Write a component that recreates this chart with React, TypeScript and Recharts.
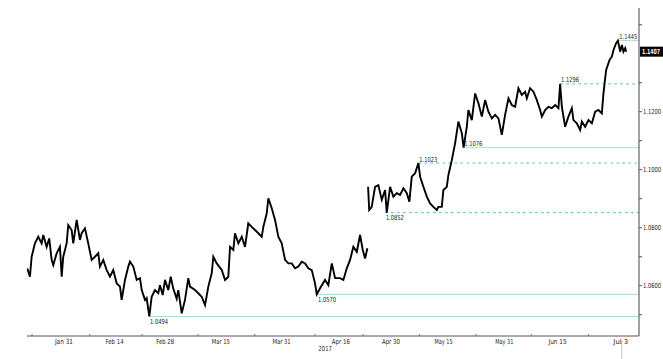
import React from 'react';
import { LineChart, Line, XAxis, YAxis, ReferenceLine } from 'recharts';

// x = trading days since Jan 31 2017 (weekends removed), y = EUR/USD
const tradingDays: number[] = [
  -7.25, -6.72, -6.38, -5.73, -5.08, -4.41, -4.09, -3.42, -2.91, -2.43, -2.11, -1.44, -0.79, -0.45, -0.14,
  0.53, 0.85, 1.52, 1.84, 2.51, 3.16, 3.5, 4.15, 4.8, 5.47, 6.13, 6.78, 7.11, 7.77, 8.44, 9.09, 9.74,
  10.42, 11.07, 11.4, 12.06, 12.71, 13.04, 13.7, 14.37, 15.02, 15.36, 16.01, 16.34, 16.86, 17.33, 17.98,
  18.64, 18.97, 19.51, 19.96, 20.61, 21.09, 21.6, 22.27, 22.59, 23.26, 23.91, 24.57, 24.9, 25.89, 26.54,
  27.21, 27.87, 28.52, 29.19, 29.51, 30.18, 31.17, 31.82, 32.47, 32.81, 33.46, 33.79, 34.45, 35.12, 35.77,
  36.42, 37.09, 37.75, 38.4, 39.07, 39.39, 40.06, 40.38, 41.05, 41.7, 42.35, 43.02, 43.68, 44.33, 45.0,
  45.65, 46.3, 46.98, 47.63, 48.28, 48.95, 49.6, 49.94, 50.59, 51.58, 52.23, 52.91, 53.56, 54.55, 55.2,
  55.87, 56.52, 57.17, 57.85, 58.5, 59.03, 59.49, 59.94,
  60.0,
  60.08, 60.3, 60.8, 61.46, 62.11, 62.79, 63.44, 63.77, 64.43, 65.08, 65.75, 66.4, 67.06, 67.73, 68.24,
  68.71, 69.37, 70.02, 70.36, 71.01, 71.68, 72.33, 72.98, 73.66, 73.97, 74.64, 74.96, 75.63, 75.95, 76.62,
  77.27, 77.92, 78.6, 78.95, 79.58, 79.9, 80.57, 81.23, 81.88, 82.55, 83.2, 83.85, 84.53, 85.18, 85.83,
  86.5, 87.15, 87.81, 88.48, 89.13, 89.78, 90.45, 91.11, 91.44, 92.09, 92.75, 93.42, 94.07, 94.41, 95.06,
  95.71, 96.38, 97.04, 97.69, 98.02, 98.36, 99.01, 99.66, 100.34, 100.65, 101.32, 101.98, 102.31, 102.96,
  103.62, 104.29, 104.94, 105.59, 106.26, 106.58, 107.11, 107.77, 108.24, 108.56, 109.09, 109.43, 109.88,
  110.22, 110.53, 110.87, 111.07,
];

const eurusd: (number | null)[] = [
  1.066, 1.0631, 1.07, 1.0746, 1.0769, 1.0746, 1.0775, 1.0734, 1.0763, 1.0689, 1.0671, 1.0712, 1.0734, 1.0631, 1.07,
  1.0746, 1.0809, 1.0792, 1.0746, 1.0827, 1.0758, 1.0781, 1.0798, 1.0746, 1.0689, 1.07, 1.0712, 1.0666, 1.0689, 1.0654, 1.0631, 1.0654,
  1.0608, 1.0597, 1.0551, 1.062, 1.0666, 1.0683, 1.0666, 1.062, 1.0626, 1.0585, 1.0551, 1.0557, 1.0494, 1.0562, 1.0585,
  1.0574, 1.0602, 1.0568, 1.062, 1.0585, 1.0631, 1.059, 1.0555, 1.0585, 1.0505, 1.0551, 1.0626, 1.0597, 1.0585, 1.0574,
  1.0562, 1.0533, 1.0597, 1.0643, 1.07, 1.0677, 1.0654, 1.062, 1.0631, 1.0734, 1.0723, 1.0781, 1.0746, 1.0769, 1.0734,
  1.0815, 1.0803, 1.0792, 1.0781, 1.0769, 1.0803, 1.085, 1.0901, 1.0867, 1.0827, 1.0769, 1.0746, 1.0689, 1.0677, 1.0677,
  1.066, 1.0666, 1.0683, 1.0677, 1.066, 1.0654, 1.0608, 1.057, 1.0591, 1.062, 1.0602, 1.0677, 1.0626, 1.0626, 1.062,
  1.066, 1.0689, 1.0734, 1.0717, 1.0775, 1.0723, 1.0694, 1.0729,
  null,
  1.0941, 1.0861, 1.0872, 1.0941, 1.0947, 1.0896, 1.093, 1.0852, 1.0941, 1.0907, 1.0919, 1.0913, 1.0936, 1.0919, 1.089,
  1.0976, 1.0988, 1.1023, 1.0976, 1.0941, 1.0907, 1.0884, 1.0872, 1.0861, 1.0872, 1.0872, 1.093, 1.0941, 1.0982, 1.1033,
  1.1091, 1.1166, 1.1126, 1.1076, 1.1148, 1.1206, 1.1171, 1.1263, 1.1229, 1.1183, 1.124, 1.12, 1.1177, 1.1189, 1.1177,
  1.112, 1.1189, 1.1246, 1.1223, 1.1217, 1.1281, 1.1258, 1.1269, 1.1246, 1.1281, 1.1269, 1.124, 1.1206, 1.1183, 1.1206,
  1.1217, 1.1212, 1.1223, 1.1212, 1.1296, 1.1217, 1.1148, 1.1183, 1.1212, 1.1171, 1.116, 1.1137, 1.1166, 1.1148,
  1.1171, 1.116, 1.12, 1.1206, 1.1194, 1.1263, 1.1344, 1.1378, 1.139, 1.1413, 1.1436, 1.1445, 1.1407,
  1.143, 1.1407, 1.1419, 1.1407,
];

const lastPrice = 1.1407;

// x-axis labels
const xLabelDays = [0, 10, 20, 31, 43, 54.7, 64.6, 75, 87, 97.5, 110];
const xLabels = ['Jan 31', 'Feb 14', 'Feb 28', 'Mar 15', 'Mar 31', 'Apr 16', 'Apr 30', 'May 15', 'May 31', 'Jun 15', 'Jul 3'];
const xMinorDays = [-6.3, 5.1, 15.4, 26.5, 37.7, 49.6, 59.1, 70.2, 81.4, 92.3, 103.6];
const yearDay = 51.6;
const yearLabel = '2017';

// y-axis
const yMinorTicks = [1.05, 1.07, 1.09, 1.11, 1.13, 1.15];
const yLabelTicks = [1.06, 1.08, 1.1, 1.12];

// annotated levels
const levelValues = [1.0494, 1.057, 1.0852, 1.1023, 1.1076, 1.1296, 1.1445];
const levelStartDays = [16.8, 50.0, 63.4, 70.0, 78.9, 98.0, 109.5];
const dashedLevels = [1.0852, 1.1023, 1.1296];
const labelBelowLevels = [1.0494, 1.057, 1.0852];

const data = tradingDays.map((t, i) => ({ t, p: eurusd[i] }));

const X_MIN = -7.3;
const X_MAX = 113.6;
const FONT = '"DejaVu Sans Condensed", "Liberation Sans", sans-serif';

const textW = (s: string) => {
  let w = 0;
  for (const c of s) w += c === '.' ? 1.5 : c === ' ' ? 1.6 : 3.3;
  return w;
};

const T = (props: any) => {
  const { children, ...rest } = props;
  return (
    <text
      {...rest}
      fontSize={7}
      fontFamily={FONT}
      textLength={textW(String(children))}
      lengthAdjust="spacingAndGlyphs"
    >
      {children}
    </text>
  );
};

const XTick = (props: any) => {
  const { x, y, payload } = props;
  const v = payload.value;
  const li = xLabelDays.indexOf(v);
  if (li >= 0) {
    const label = xLabels[li];
    return (
      <g>
        {label === 'Jul 3' && <line x1={x + 1} y1={y + 5} x2={x + 1} y2={y + 23} stroke="#c8c8c8" strokeWidth={1} />}
        <T x={x} y={y + 8} textAnchor="middle" fill="#222">
          {label}
        </T>
      </g>
    );
  }
  if (v === yearDay) {
    return (
      <T x={x} y={y + 15} textAnchor="middle" fill="#222">
        {yearLabel}
      </T>
    );
  }
  return <line x1={x} y1={y} x2={x} y2={y - 2} stroke="#777" strokeWidth={1} />;
};

const YTick = (props: any) => {
  const { x, y, payload } = props;
  const v = payload.value;
  if (v === lastPrice) {
    return (
      <g>
        <rect x={x + 1} y={y - 5} width={23} height={10} fill="#000" />
        <T x={x + 3} y={y + 2.5} fill="#fff" fontWeight="bold">
          {lastPrice.toFixed(4)}
        </T>
      </g>
    );
  }
  const labeled = yLabelTicks.includes(v);
  return (
    <g>
      <line x1={x} y1={y} x2={x + 3} y2={y} stroke="#555" strokeWidth={1} />
      {labeled && (
        <T x={x + 4} y={y + 2.5} fill="#222">
          {v.toFixed(4)}
        </T>
      )}
    </g>
  );
};

const LevelLabel = (props: any) => {
  const { viewBox, text, below } = props;
  if (!viewBox) return null;
  const x = viewBox.x + 1;
  const y = below ? viewBox.y + 7.5 : viewBox.y - 1.5;
  return (
    <T x={x} y={y} fill="#222">
      {text}
    </T>
  );
};

export default function App() {
  const yTicks = [...yMinorTicks, ...yLabelTicks, lastPrice].sort((a, b) => a - b);
  const xTicks = [...xMinorDays, ...xLabelDays, yearDay].sort((a, b) => a - b);
  return (
    <div style={{ position: 'absolute', left: 0, top: 0, width: 663, height: 359, background: '#fff' }}>
      <LineChart width={663} height={359} data={data} margin={{ top: 8, right: 0, bottom: 0, left: 27 }}>
        <XAxis
          dataKey="t"
          type="number"
          domain={[X_MIN, X_MAX]}
          ticks={xTicks}
          interval={0}
          tick={<XTick />}
          tickLine={false}
          tickSize={0}
          tickMargin={0}
          height={23}
          axisLine={{ stroke: '#555', strokeWidth: 1 }}
          allowDataOverflow
        />
        <YAxis
          orientation="right"
          type="number"
          domain={[1.04266, 1.15576]}
          ticks={yTicks}
          interval={0}
          tick={<YTick />}
          tickLine={false}
          tickSize={0}
          tickMargin={0}
          width={24}
          axisLine={{ stroke: '#444', strokeWidth: 1 }}
          allowDataOverflow
        />
        {levelValues.map((v, i) => {
          const dashed = dashedLevels.includes(v);
          return (
            <ReferenceLine
              key={v}
              segment={[
                { x: levelStartDays[i], y: v },
                { x: X_MAX, y: v },
              ]}
              stroke={dashed ? '#6cc5b0' : '#a9ddd0'}
              strokeWidth={1}
              strokeDasharray={dashed ? '3 3' : undefined}
              ifOverflow="visible"
              label={<LevelLabel text={v.toFixed(4)} below={labelBelowLevels.includes(v)} />}
            />
          );
        })}
        <Line
          type="linear"
          dataKey="p"
          stroke="#000"
          strokeWidth={1.9}
          dot={false}
          connectNulls={false}
          isAnimationActive={false}
        />
      </LineChart>
    </div>
  );
}
